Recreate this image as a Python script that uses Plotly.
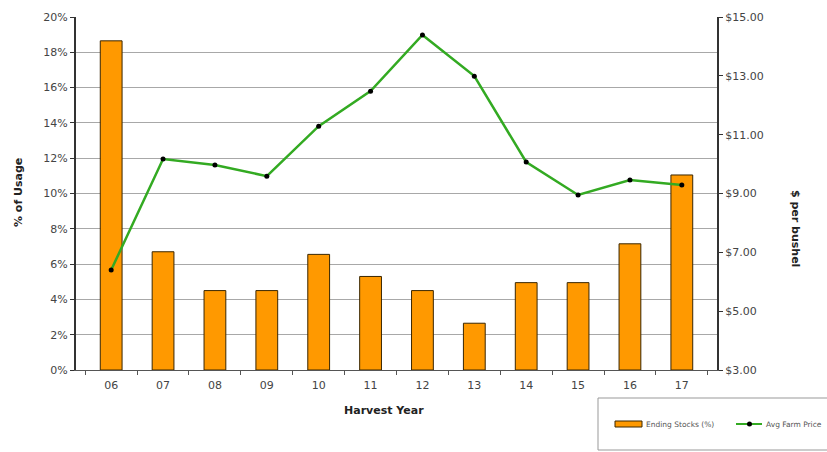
import plotly.graph_objects as go

years = ["06", "07", "08", "09", "10", "11", "12", "13", "14", "15", "16", "17"]
ending_stocks = [18.65, 6.7, 4.5, 4.5, 6.55, 5.3, 4.5, 2.65, 4.95, 4.95, 7.15, 11.05]
avg_price = [6.40, 10.17, 9.97, 9.59, 11.29, 12.48, 14.39, 12.99, 10.07, 8.95, 9.46, 9.29]
left_ticks = [0, 2, 4, 6, 8, 10, 12, 14, 16, 18, 20]
right_ticks = [3, 5, 7, 9, 11, 13, 15]

FONT = "DejaVu Sans"
BAR_COLOR = "#FF9900"
LINE_COLOR = "#33aa22"

# plot area in pixels: left 76, right 717, top 17, bottom 370
def px(x):
    return (x - 76) / 641

def py(y):
    return (370 - y) / 353

fig = go.Figure()
fig.add_trace(go.Bar(
    x=years, y=ending_stocks, name="Ending Stocks (%)",
    marker=dict(color=BAR_COLOR, line=dict(color="#3a2600", width=1)),
    width=0.42, yaxis="y", showlegend=False,
))
fig.add_trace(go.Scatter(
    x=years, y=avg_price, name="Avg Farm Price", mode="lines+markers",
    line=dict(color=LINE_COLOR, width=2.5),
    marker=dict(color="black", size=5),
    yaxis="y2", showlegend=False,
))

annotations = [
    dict(text="<b>Harvest Year</b>", xref="paper", yref="paper", x=px(384), y=py(410),
         showarrow=False, font=dict(size=11, color="#222"), xanchor="center", yanchor="middle"),
    dict(text="<b>% of Usage</b>", xref="paper", yref="paper", x=px(18), y=py(193),
         showarrow=False, textangle=-90, font=dict(size=11, color="#222"),
         xanchor="center", yanchor="middle"),
    dict(text="<b>$ per bushel</b>", xref="paper", yref="paper", x=px(796), y=py(228),
         showarrow=False, textangle=90, font=dict(size=11, color="#222"),
         xanchor="center", yanchor="middle"),
    dict(text="Ending Stocks (%)", xref="paper", yref="paper", x=px(644), y=py(424),
         showarrow=False, font=dict(size=7.5, color="#555"), xanchor="left", yanchor="middle"),
    dict(text="Avg Farm Price", xref="paper", yref="paper", x=px(764), y=py(424),
         showarrow=False, font=dict(size=7.5, color="#555"), xanchor="left", yanchor="middle"),
]

shapes = [
    # legend box
    dict(type="rect", xref="paper", yref="paper",
         x0=px(598), x1=px(845), y0=py(450), y1=py(398),
         line=dict(color="#999", width=1), fillcolor="rgba(0,0,0,0)"),
    # legend bar swatch
    dict(type="rect", xref="paper", yref="paper",
         x0=px(615), x1=px(642), y0=py(427), y1=py(421),
         line=dict(color="#3a2600", width=1), fillcolor=BAR_COLOR),
    # legend line swatch
    dict(type="line", xref="paper", yref="paper",
         x0=px(736), x1=px(762), y0=py(424), y1=py(424),
         line=dict(color=LINE_COLOR, width=2)),
    dict(type="circle", xref="paper", yref="paper",
         x0=px(747), x1=px(752), y0=py(426.5), y1=py(421.5),
         line=dict(color="black", width=0), fillcolor="black"),
]

fig.update_layout(
    width=827, height=452,
    margin=dict(l=76, r=110, t=17, b=82),
    plot_bgcolor="white", paper_bgcolor="white",
    font=dict(family=FONT, size=11, color="#444"),
    showlegend=False,
    xaxis=dict(
        showline=True, linecolor="#555", linewidth=1,
        ticks="outside", ticklen=4, tickcolor="#555",
        tickson="boundaries", ticklabelstandoff=5,
        tickfont=dict(size=11, color="#444"),
    ),
    yaxis=dict(
        range=[0, 20], tickvals=left_ticks,
        ticktext=[f"{v}%" for v in left_ticks],
        showgrid=True, gridcolor="#a8a8a8", gridwidth=1,
        showline=True, linecolor="#333", linewidth=2,
        ticks="outside", ticklen=4, tickcolor="#333",
        tickfont=dict(size=11, color="#444"),
        zeroline=False,
    ),
    yaxis2=dict(
        range=[3, 15], tickvals=right_ticks,
        ticktext=[f"${v:.2f}" for v in right_ticks],
        overlaying="y", side="right",
        showgrid=False,
        showline=True, linecolor="#333", linewidth=2,
        ticks="outside", ticklen=4, tickcolor="#333",
        tickfont=dict(size=11, color="#444"),
        zeroline=False,
    ),
    annotations=annotations,
    shapes=shapes,
)

fig.write_html("out.html")
